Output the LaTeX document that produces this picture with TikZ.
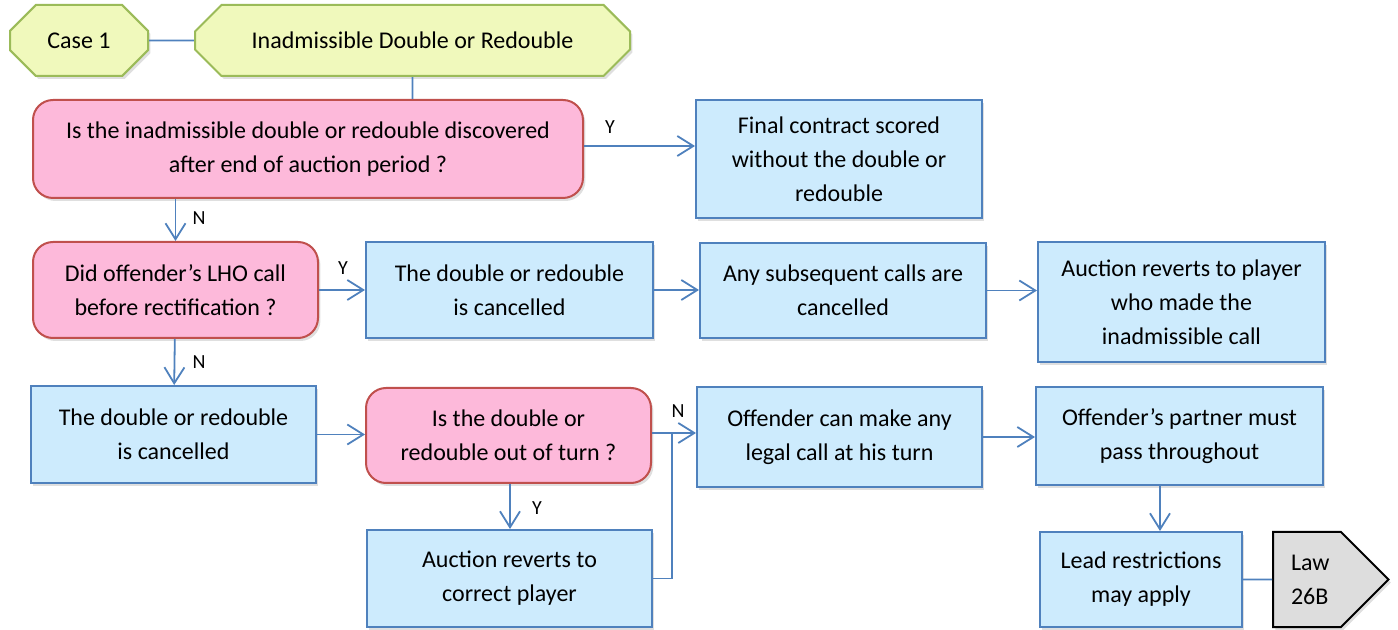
\documentclass[tikz,border=0pt]{standalone}
\usepackage{fontspec}
\setmainfont{Carlito}
\usetikzlibrary{shapes.misc,shapes.symbols,arrows.meta,shadows}
\definecolor{headfill}{HTML}{F0F9BC}
\definecolor{headline}{HTML}{9BBB59}
\definecolor{askfill}{HTML}{FDB9DA}
\definecolor{askline}{HTML}{C0504D}
\definecolor{boxfill}{HTML}{CDEBFD}
\definecolor{boxline}{HTML}{4F81BD}
\definecolor{lawfill}{HTML}{DDDDDD}
\begin{document}
\begin{tikzpicture}[x=0.5pt,y=-0.5pt,line cap=butt,line join=miter,
    >={Straight Barb[length=8pt,width=10pt,line width=0.9pt]},
    font=\fontsize{12}{17}\selectfont]
  \tikzset{shade/.style={drop shadow={shadow xshift=1.2pt,shadow yshift=-1.5pt,opacity=0.25}},
    head/.style={chamfered rectangle,chamfered rectangle xsep=9pt,chamfered rectangle ysep=9pt,
      draw=headline,fill=headfill,line width=1pt,minimum height=35.5pt,inner sep=0pt,shade},
    ask/.style={rectangle,rounded corners=10pt,draw=askline,fill=askfill,line width=1pt,
      align=center,inner sep=0pt,shade},
    box/.style={rectangle,draw=boxline,fill=boxfill,line width=1pt,
      align=center,inner sep=0pt,shade},
    yn/.style={font=\fontsize{10}{11}\selectfont},
    link/.style={draw=boxline,line width=0.9pt}}
  \useasboundingbox (0,0) rectangle (1398,630);
  % heading
  \node[head,minimum width=69pt] (case) at (79,40.5) {Case 1};
  \node[head,minimum width=217.5pt] (title) at (412.5,40.5) {Inadmissible Double or Redouble};
  % questions
  \node[ask,minimum width=275pt,minimum height=49pt] (q1) at (308,149)
    {Is the inadmissible double or redouble discovered\\after end of auction period ?};
  \node[ask,minimum width=142.5pt,minimum height=48pt] (q2) at (175.5,290)
    {Did offender’s LHO call\\before rectification ?};
  \node[ask,minimum width=142.5pt,minimum height=47.5pt] (q3) at (508.5,435.5)
    {Is the double or\\redouble out of turn ?};
  % outcomes
  \node[box,minimum width=143pt,minimum height=59pt] (a1) at (839,159)
    {Final contract scored\\without the double or\\redouble};
  \node[box,minimum width=143.5pt,minimum height=48pt] (b1) at (509.5,290)
    {The double or redouble\\is cancelled};
  \node[box,minimum width=143pt,minimum height=47.5pt] (b2) at (843,290.5)
    {Any subsequent calls are\\cancelled};
  \node[box,minimum width=143.5pt,minimum height=60pt] (b3) at (1181.5,302)
    {Auction reverts to player\\who made the\\inadmissible call};
  \node[box,minimum width=142.5pt,minimum height=48.5pt] (c1) at (173.5,434.5)
    {The double or redouble\\is cancelled};
  \node[box,minimum width=142.5pt,minimum height=50pt] (c2) at (839.5,437)
    {Offender can make any\\legal call at his turn};
  \node[box,minimum width=143.5pt,minimum height=49pt] (c3) at (1179.5,436)
    {Offender’s partner must\\pass throughout};
  \node[box,minimum width=142.5pt,minimum height=48.5pt] (d1) at (509.5,578.5)
    {Auction reverts to\\correct player};
  \node[box,minimum width=101pt,minimum height=47.5pt] (c4) at (1141,579.5)
    {Lead restrictions\\may apply};
  \node[signal,signal to=east,signal pointer angle=90,draw=black,fill=lawfill,line width=1pt,
    minimum height=47.5pt,inner xsep=9pt,inner ysep=0pt,text width=16pt,align=center,
    shade,anchor=west] (law) at (1272,579.5) {Law\\26B};
  % connectors
  \draw[link] (case) -- (title);
  \draw[link] (title) -- (title |- q1.north);
  \draw[link,->] (q1.east |- 0,146) -- (a1.west |- 0,146);
  \draw[link,->] (q1.south -| q2) -- (q2);
  \draw[link,->] (q2) -- (c1);
  \draw[link,->] (q3.south -| 510,0) -- (d1.north -| 510,0);
  \foreach \a/\b in {q2/b1,b1/b2,b2/b3,c1/q3,c2/c3}{
    \draw[link,->] (\a.east) -- (\a.east -| \b.west);}
  \draw[link,->] (c3.south -| 1160,0) -- (c4.north -| 1160,0);
  \draw[link] (c4) -- (law);
  \coordinate (m) at (672,433);
  \draw[link,->] (q3.east |- m) -- (m -| c2.west);
  \draw[link] (d1.east) -| (m);
  % answers
  \node[yn] (y1) at (610,127) {Y};
  \node[yn] (n1) at (199,218) {N};
  \node[yn] (y2) at (343,268) {Y};
  \node[yn] (n2) at (199,362) {N};
  \node[yn] (y3) at (537,508) {Y};
  \node[yn] (n3) at (678,411) {N};
\end{tikzpicture}
\end{document}
